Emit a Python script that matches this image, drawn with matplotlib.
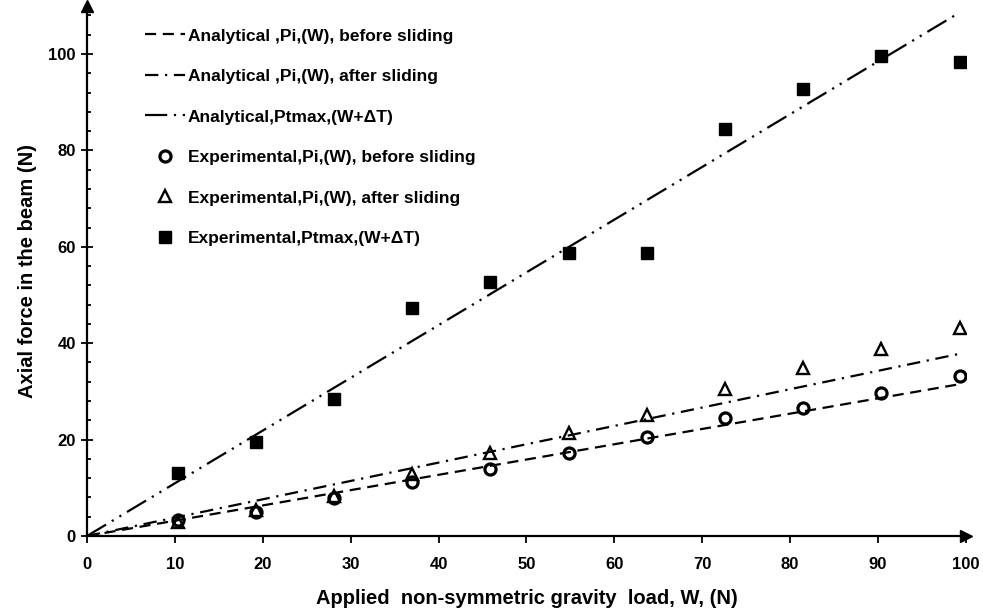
import numpy as np
import matplotlib.pyplot as plt

plt.rcParams['font.family'] = ['Liberation Sans', 'DejaVu Sans']
plt.rcParams['font.weight'] = 'bold'

# applied load W (N)
w = [10.3, 19.2, 28.1, 37.0, 45.9, 54.8, 63.7, 72.6, 81.5, 90.4, 99.3]
# experimental axial forces (N)
p_before = [3.3, 5.0, 7.8, 11.3, 14.0, 17.3, 20.6, 24.4, 26.5, 29.7, 33.1]
p_after = [3.0, 5.3, 8.2, 12.8, 17.2, 21.4, 25.1, 30.5, 34.8, 38.8, 43.2]
p_tmax = [13.0, 19.6, 28.4, 47.2, 52.6, 58.8, 58.8, 84.4, 92.7, 99.6, 98.3]

# analytical lines (end points)
w_line = [0, 99.3]
a_before = [0, 31.5]
a_after = [0, 37.8]
a_tmax = [0, 108.6]

fig = plt.figure(figsize=(9.83, 6.13), dpi=100)
ax = fig.add_axes([0.0885, 0.1256, 0.894, 0.865])

ax.plot(w_line, a_before, color='k', lw=1.6, dashes=(5, 3),
        label='Analytical ,Pi,(W), before sliding')
ax.plot(w_line, a_after, color='k', lw=1.6, dashes=(6, 3, 1, 3),
        label='Analytical ,Pi,(W), after sliding')
ax.plot(w_line, a_tmax, color='k', lw=1.6, dashes=(10, 3, 1, 3, 1, 3),
        label='Analytical,Ptmax,(W+\u0394T)')
ax.plot(w, p_before, 'o', ms=8, mfc='none', mec='k', mew=2.3, ls='none',
        label='Experimental,Pi,(W), before sliding')
ax.plot(w, p_after, '^', ms=8, mfc='none', mec='k', mew=1.7, ls='none',
        label='Experimental,Pi,(W), after sliding')
ax.plot(w, p_tmax, 's', ms=8, color='k', ls='none',
        label='Experimental,Ptmax,(W+\u0394T)')

ax.set_xlim(0, 100)
ax.set_ylim(0, 110)
ax.set_xticks(np.arange(0, 101, 10))
ax.set_yticks(np.arange(0, 101, 20))
ax.set_yticks(np.arange(0, 109, 4), minor=True)

for s in ['top', 'right']:
    ax.spines[s].set_visible(False)
for s in ['left', 'bottom']:
    ax.spines[s].set_linewidth(1.6)

ax.tick_params(axis='x', which='major', direction='out', length=5, width=1.3,
               labelsize=12, pad=10)
ax.tick_params(axis='y', which='major', direction='inout', length=8, width=1.3,
               labelsize=12, pad=4)
ax.tick_params(axis='y', which='minor', direction='in', length=3, width=1.3)

# arrow heads on the axes
ax.plot(1, 0, '>k', ms=9, transform=ax.transAxes, clip_on=False)
ax.plot(0, 1, '^k', ms=9, transform=ax.transAxes, clip_on=False)

ax.set_xlabel('Applied  non-symmetric gravity  load, W, (N)', fontsize=14.5,
              fontweight='bold', labelpad=12)
ax.set_ylabel('Axial force in the beam (N)', fontsize=14.5, fontweight='bold',
              labelpad=8)

ax.legend(loc='upper left', bbox_to_anchor=(0.1405, 0.965),
          bbox_transform=fig.transFigure, frameon=False, fontsize=12.5,
          handlelength=2.3, handletextpad=0.17, labelspacing=1.46,
          borderaxespad=0)

fig.savefig('out.png', dpi=100)
